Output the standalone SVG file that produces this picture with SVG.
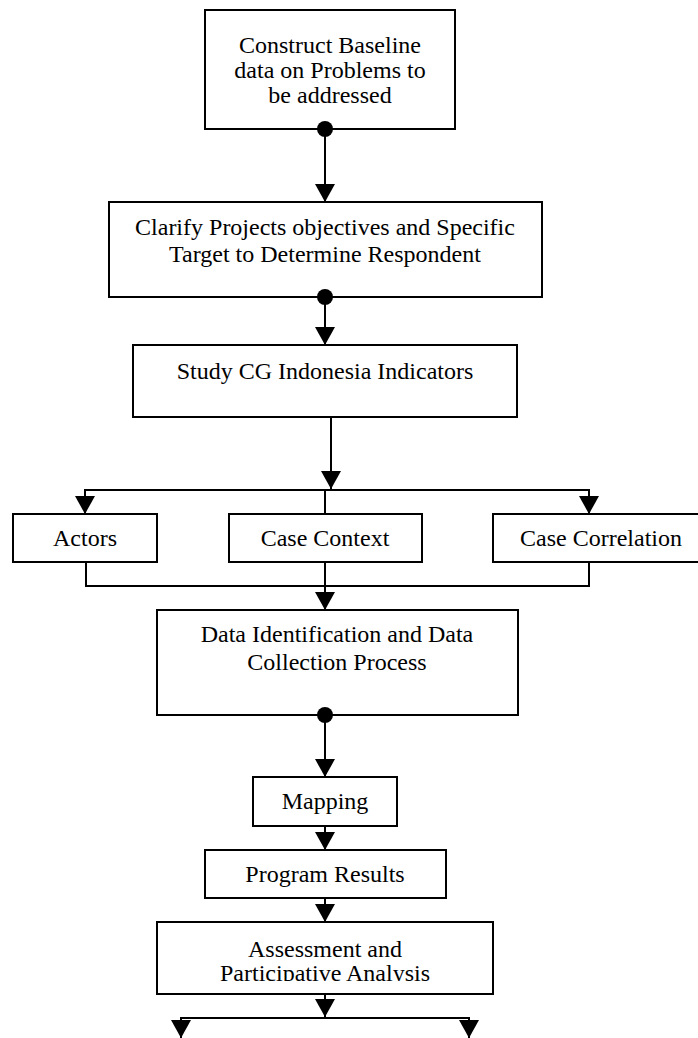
<svg xmlns="http://www.w3.org/2000/svg" width="698" height="1038" viewBox="0 0 698 1038">
<style>
.box{fill:#fff;stroke:#000;stroke-width:2}
.t{font-family:"Liberation Serif","Times New Roman",serif;font-size:24px;fill:#000;text-anchor:middle}
.c{fill:none;stroke:#000;stroke-width:2}
.a{marker-end:url(#arr)}
.dot{fill:#000}
</style>
<defs>
<marker id="arr" viewBox="0 0 18 20" refX="18" refY="10" markerWidth="18" markerHeight="20" markerUnits="userSpaceOnUse" orient="auto">
<path d="M0,0 L18,10 L0,20 Z" fill="#000"/>
</marker>
<clipPath id="clipA"><rect x="157" y="922" width="336" height="59"/></clipPath>
</defs>
<rect width="698" height="1038" fill="#fff"/>
<g id="n1">
<rect class="box" x="205" y="10" width="250" height="119"/>
<text class="t" x="330" y="53">Construct Baseline</text>
<text class="t" x="330" y="78">data on Problems to</text>
<text class="t" x="330" y="103">be addressed</text>
</g>
<g id="n2">
<rect class="box" x="109" y="202" width="433" height="95"/>
<text class="t" x="325" y="235">Clarify Projects objectives and Specific</text>
<text class="t" x="325" y="262">Target to Determine Respondent</text>
</g>
<g id="n3">
<rect class="box" x="133" y="345" width="384" height="72"/>
<text class="t" x="325" y="379">Study CG Indonesia Indicators</text>
</g>
<g id="n4">
<rect class="box" x="13" y="514" width="144" height="48"/>
<text class="t" x="85" y="546">Actors</text>
</g>
<g id="n5">
<rect class="box" x="229" y="514" width="193" height="48"/>
<text class="t" x="325" y="546">Case Context</text>
</g>
<g id="n6">
<rect class="box" x="493" y="514" width="216" height="48"/>
<text class="t" x="601" y="546">Case Correlation</text>
</g>
<g id="n7">
<rect class="box" x="157" y="610" width="361" height="105"/>
<text class="t" x="337" y="642">Data Identification and Data</text>
<text class="t" x="337" y="670">Collection Process</text>
</g>
<g id="n8">
<rect class="box" x="253" y="777" width="144" height="49"/>
<text class="t" x="325" y="809">Mapping</text>
</g>
<g id="n9">
<rect class="box" x="205" y="850" width="241" height="48"/>
<text class="t" x="325" y="882">Program Results</text>
</g>
<g id="n10">
<rect class="box" x="157" y="922" width="336" height="72"/>
<g clip-path="url(#clipA)">
<text class="t" x="325" y="957">Assessment and</text>
<text class="t" x="325" y="981">Participative Analysis</text>
</g>
</g>
<g id="connectors">
<line class="c a" x1="325" y1="129" x2="325" y2="202"/>
<circle class="dot" cx="325" cy="129" r="8"/>
<line class="c a" x1="325" y1="297" x2="325" y2="345"/>
<circle class="dot" cx="325" cy="297" r="8"/>
<line class="c a" x1="331" y1="417" x2="331" y2="489"/>
<polyline class="c a" points="325,490 85,490 85,514"/>
<polyline class="c a" points="325,490 589,490 589,514"/>
<line class="c" x1="325" y1="490" x2="325" y2="514"/>
<polyline class="c" points="86,562 86,586 589,586 589,562"/>
<line class="c a" x1="325" y1="562" x2="325" y2="610"/>
<line class="c a" x1="325" y1="715" x2="325" y2="777"/>
<circle class="dot" cx="325" cy="715" r="8"/>
<line class="c a" x1="325" y1="826" x2="325" y2="850"/>
<line class="c a" x1="325" y1="898" x2="325" y2="922"/>
<line class="c a" x1="325" y1="994" x2="325" y2="1017"/>
<polyline class="c a" points="325,1018 181,1018 181,1038"/>
<polyline class="c a" points="325,1018 469,1018 469,1038"/>
</g>
</svg>
